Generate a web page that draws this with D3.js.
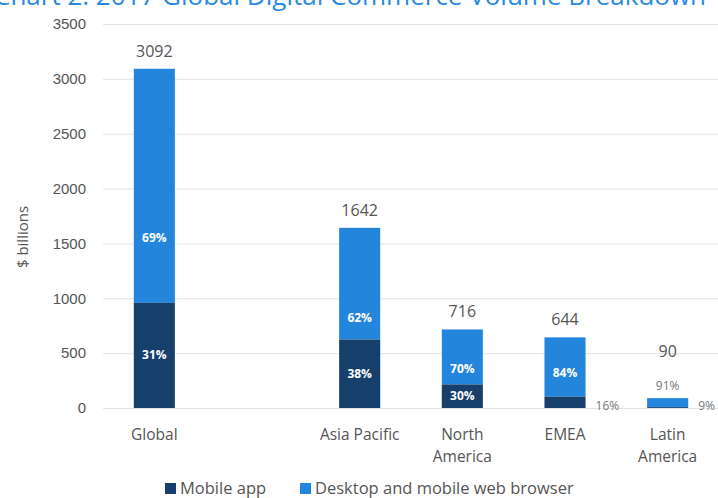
<!DOCTYPE html>
<html>
<head>
<meta charset="utf-8">
<script src="https://cdn.jsdelivr.net/npm/d3@7"></script>
<style>
  body { margin: 0; background: #fff; }
  svg { font-family: "Open Sans", "Noto Sans", sans-serif; }
</style>
</head>
<body>
<svg id="chart" width="718" height="498"></svg>
<script>
// regions, with an empty slot between Global and the rest
const categories = ['Global', '', 'Asia Pacific', 'North America', 'EMEA', 'Latin America'];
const regions = ['Global', 'Asia Pacific', 'North America', 'EMEA', 'Latin America'];
const totals = [3092, 1642, 716, 644, 90];      // $ billions
const mobileShare = [31, 38, 30, 16, 9];        // % mobile app
const webShare = [69, 62, 70, 84, 91];          // % desktop and mobile web browser
const yTicks = [0, 500, 1000, 1500, 2000, 2500, 3000, 3500];
const seriesNames = ['Mobile app', 'Desktop and mobile web browser'];

const colors = { mobile: '#163f6c', web: '#2485dc' };

const svg = d3.select('#chart');

const x = d3.scaleBand().domain(categories).range([103, 719]).paddingInner(0.6).paddingOuter(0.3);
const y = d3.scaleLinear().domain([0, 3500]).range([408, 24]);

// title, cut off at the top like the source image
svg.append('text')
  .attr('x', -6).attr('y', 5)
  .attr('fill', '#2b8ae0').attr('font-size', 26)
  .text('Chart 2: 2017 Global Digital Commerce Volume Breakdown');

// gridlines + y labels
const yAxis = d3.axisLeft(y).tickValues(yTicks).tickFormat(d3.format('d')).tickSize(-615).tickPadding(17);
const gy = svg.append('g').attr('transform', 'translate(103,0)').call(yAxis);
gy.select('.domain').remove();
gy.selectAll('.tick line').attr('stroke', '#e4e4e4');
gy.selectAll('.tick text').attr('fill', '#555').attr('font-size', 15);

svg.append('text')
  .attr('transform', 'translate(28,237) rotate(-90)')
  .attr('text-anchor', 'middle')
  .attr('fill', '#555').attr('font-size', 15)
  .text('$ billions');

const rows = regions.map((r, i) => ({
  region: r,
  total: totals[i],
  mobile: totals[i] * mobileShare[i] / 100,
  mShare: mobileShare[i],
  wShare: webShare[i]
}));

const bars = svg.append('g').selectAll('g').data(rows).join('g');

bars.append('rect')
  .attr('x', d => x(d.region)).attr('width', x.bandwidth())
  .attr('y', d => y(d.total)).attr('height', d => y(d.mobile) - y(d.total))
  .attr('fill', colors.web);

bars.append('rect')
  .attr('x', d => x(d.region)).attr('width', x.bandwidth())
  .attr('y', d => y(d.mobile)).attr('height', d => y(0) - y(d.mobile))
  .attr('fill', colors.mobile);

const cx = d => x(d.region) + x.bandwidth() / 2;
const webTall = d => y(d.mobile) - y(d.total) > 16;
const mobTall = d => y(0) - y(d.mobile) > 16;

// totals above bars
bars.append('text')
  .attr('x', cx)
  .attr('y', d => y(d.total) - (webTall(d) ? 12 : 41))
  .attr('text-anchor', 'middle')
  .attr('fill', '#555').attr('font-size', 16)
  .text(d => d3.format('d')(d.total));

// web share label
bars.append('text')
  .attr('x', cx)
  .attr('y', d => webTall(d) ? y(d.total / 2) + 4 : y(d.total) - 8)
  .attr('text-anchor', 'middle')
  .attr('fill', d => webTall(d) ? '#fff' : '#777')
  .attr('font-weight', d => webTall(d) ? 'bold' : 'normal')
  .attr('font-size', 12)
  .text(d => d.wShare + '%');

// mobile share label
bars.append('text')
  .attr('x', d => mobTall(d) ? cx(d) : x(d.region) + x.bandwidth() + 10)
  .attr('y', d => mobTall(d) ? y(d.mobile / 2) + 4 : y(0) + 2)
  .attr('text-anchor', d => mobTall(d) ? 'middle' : 'start')
  .attr('fill', d => mobTall(d) ? '#fff' : '#777')
  .attr('font-weight', d => mobTall(d) ? 'bold' : 'normal')
  .attr('font-size', 12)
  .text(d => d.mShare + '%');

// category labels, the Americas wrap onto two lines
const xl = svg.append('g').selectAll('text').data(regions).join('text')
  .attr('text-anchor', 'middle')
  .attr('fill', '#555').attr('font-size', 15.5);
xl.each(function(r) {
  const lines = r.endsWith('America') ? r.split(' ') : [r];
  d3.select(this).selectAll('tspan').data(lines).join('tspan')
    .attr('x', x(r) + x.bandwidth() / 2)
    .attr('y', (l, i) => 440 + i * 22)
    .text(l => l);
});

// legend
const legendX = [165, 300];
const lg = svg.append('g').selectAll('g').data(seriesNames).join('g')
  .attr('transform', (d, i) => `translate(${legendX[i]},483)`);
lg.append('rect').attr('width', 11).attr('height', 11).attr('y', 0)
  .attr('fill', (d, i) => i === 0 ? colors.mobile : colors.web);
lg.append('text').attr('x', 15).attr('y', 11)
  .attr('fill', '#555').attr('font-size', 16.5)
  .text(d => d);
</script>
</body>
</html>
